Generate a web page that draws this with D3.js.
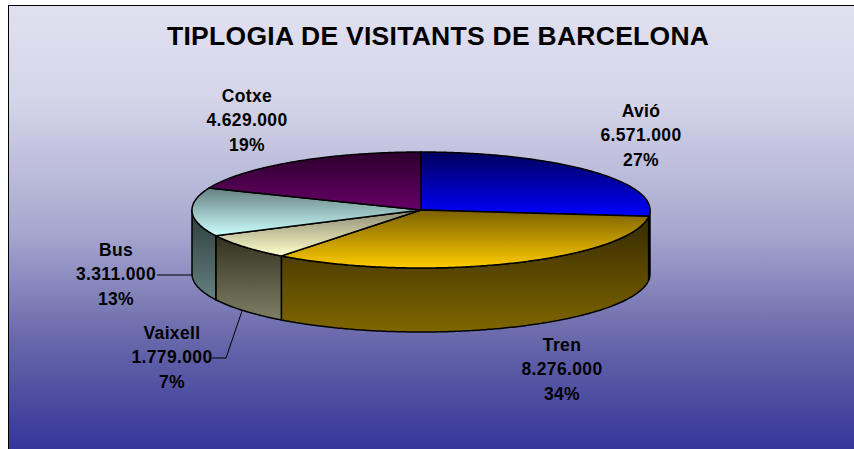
<!DOCTYPE html>
<html>
<head>
<meta charset="utf-8">
<script src="https://cdn.jsdelivr.net/npm/d3@7"></script>
<style>
html,body{margin:0;padding:0;background:#fff}
svg{display:block}
text{font-family:"Liberation Sans",Arial,sans-serif;font-weight:bold;fill:#000}
</style>
</head>
<body>
<svg id="c" width="854" height="449"></svg>
<script>
const categories = ["Avió", "Tren", "Vaixell", "Bus", "Cotxe"];
const values = [6571000, 8276000, 1779000, 3311000, 4629000];
const topDark = ["#00005c", "#7a6000", "#8c8a72", "#668080", "#2c002c"];
const topLight = ["#0000ff", "#ffcc00", "#ffffcc", "#ccffff", "#660066"];
const wallDark = ["#000030", "#362a00", "#33311f", "#2c3c3c", "#200020"];
const wallLight = ["#000080", "#7f6600", "#7f7f66", "#668080", "#330033"];
const titleText = "TIPLOGIA DE VISITANTS DE BARCELONA";
const labelX = [641, 562, 172, 116, 247];
const labelY = [117, 351, 339, 256, 102];

const W = 854, H = 449, depth = 64;
const svg = d3.select("#c");
const defs = svg.append("defs");

const bg = defs.append("linearGradient").attr("id", "bg").attr("x1", 0).attr("x2", 0).attr("y1", 0).attr("y2", 1);
[[0, "#e0e0f0"], [0.2, "#d6d6ea"], [0.5, "#a8a8d0"], [0.75, "#6666aa"], [1, "#333399"]]
  .forEach(s => bg.append("stop").attr("offset", s[0]).attr("stop-color", s[1]));

svg.append("rect").attr("x", 8.5).attr("y", 5.5).attr("width", W).attr("height", H)
  .attr("fill", "url(#bg)").attr("stroke", "#000");

const grad = (id, a, b) => {
  const g = defs.append("linearGradient").attr("id", id).attr("x1", 0).attr("x2", 0).attr("y1", 0).attr("y2", 1);
  g.append("stop").attr("offset", 0).attr("stop-color", a);
  g.append("stop").attr("offset", 1).attr("stop-color", b);
};
categories.forEach((c, i) => {
  grad("t" + i, topDark[i], topLight[i]);
  grad("w" + i, wallDark[i], wallLight[i]);
});

const x = d3.scaleLinear().domain([-1, 1]).range([192, 650]);
const y = d3.scaleLinear().domain([-1, 1]).range([152, 268]);
const pt = a => [x(Math.sin(a)), y(-Math.cos(a))];
const arcPts = (a0, a1) => {
  const n = Math.max(2, Math.ceil(Math.abs(a1 - a0) / 0.01));
  return d3.range(n + 1).map(k => pt(a0 + (a1 - a0) * k / n));
};
const line = d3.line();
const arcs = d3.pie().sort(null)(values);

// outer walls: only the part of the rim facing the viewer
const HP = Math.PI / 2, TP = 3 * Math.PI / 2;
const walls = arcs.map(d => ({
  i: d.index,
  a0: Math.max(d.startAngle, HP),
  a1: Math.min(d.endAngle, TP)
})).filter(d => d.a1 > d.a0);

svg.append("g").selectAll("path").data(walls).join("path")
  .attr("d", d => {
    const t = arcPts(d.a0, d.a1);
    const b = t.map(p => [p[0], p[1] + depth]).reverse();
    return line(t.concat(b)) + "Z";
  })
  .attr("fill", d => `url(#w${d.i})`)
  .attr("stroke", "#000").attr("stroke-width", 1.5).attr("stroke-linejoin", "round");

// top faces
svg.append("g").selectAll("path").data(arcs).join("path")
  .attr("d", d => line([[x(0), y(0)]].concat(arcPts(d.startAngle, d.endAngle))) + "Z")
  .attr("fill", d => `url(#t${d.index})`)
  .attr("stroke", "#000").attr("stroke-width", 1.5).attr("stroke-linejoin", "round");

// leader lines
const leaders = [
  [[157, 275], [193, 275]],
  [[212, 358], [226, 358], [242, 311]]
];
svg.append("g").selectAll("path").data(leaders).join("path")
  .attr("d", line).attr("fill", "none").attr("stroke", "#000").attr("stroke-width", 1);

// title
svg.append("text").attr("x", 438).attr("y", 45).attr("text-anchor", "middle")
  .attr("font-size", 26.5).attr("textLength", 542).attr("lengthAdjust", "spacing").text(titleText);

// labels
const total = d3.sum(values);
const fmt = d3.formatLocale({ decimal: ",", thousands: ".", grouping: [3], currency: ["", ""] }).format(",d");
const lab = svg.append("g").selectAll("text").data(categories).join("text")
  .attr("text-anchor", "middle").attr("font-size", 17.5).attr("letter-spacing", 0.35)
  .attr("x", (d, i) => labelX[i]).attr("y", (d, i) => labelY[i]);
lab.each(function (d, i) {
  const t = d3.select(this);
  [d, fmt(values[i]), Math.round(values[i] / total * 100) + "%"].forEach((s, k) => {
    t.append("tspan").attr("x", labelX[i]).attr("dy", k ? 24.4 : 0).text(s);
  });
});
</script>
</body>
</html>
